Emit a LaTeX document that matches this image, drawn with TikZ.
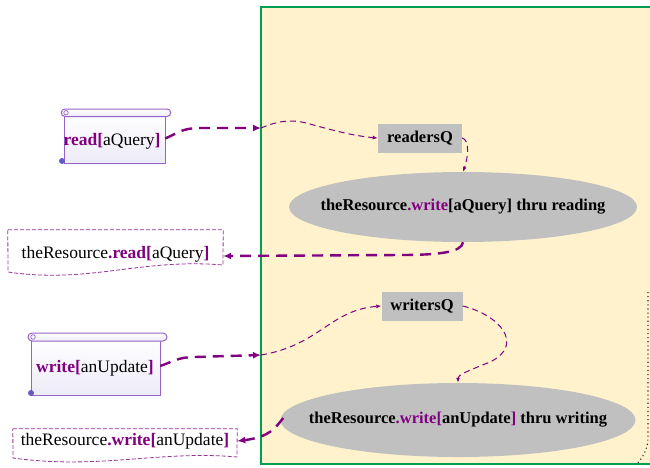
\documentclass[tikz,border=0pt]{standalone}
\usepackage{fontspec}
\setmainfont{Liberation Serif}
\usetikzlibrary{arrows.meta,shapes.geometric}
\definecolor{pur}{RGB}{128,0,128}
\definecolor{grn}{RGB}{0,160,80}
\definecolor{cream}{RGB}{255,242,204}
\definecolor{qgray}{RGB}{192,192,192}
\definecolor{scrl}{RGB}{150,100,200}
\definecolor{curl}{RGB}{100,90,200}
\newcommand{\pb}[1]{\textcolor{pur}{\textbf{#1}}}
\newcommand{\pr}[1]{\textcolor{pur}{#1}}
\begin{document}
\begin{tikzpicture}[x=1pt,y=-1pt,
  font=\fontsize{17.5}{21}\selectfont,
  thickarrow/.style={draw=pur, line width=2.4pt, dash pattern=on 11pt off 7pt, -{Latex[length=8pt,width=7pt]}},
  thinarrow/.style={draw=pur, line width=1pt, dash pattern=on 6pt off 4pt, -{Latex[length=5pt,width=4pt]}},
  scrollbody/.style={draw=none, minimum width=#1, inner sep=0pt},
  scrollline/.style={draw=scrl, line width=1pt, top color=white, bottom color=curl!12},
  docbox/.style={draw=none, inner sep=0pt, minimum height=42pt},
  docline/.style={draw=pur!80, line width=0.8pt, dash pattern=on 4pt off 2pt, fill=white},
  qbox/.style={fill=qgray, inner sep=0pt, minimum height=29pt, font=\fontsize{16.5}{20}\selectfont\bfseries},
  act/.style={ellipse, fill=qgray, inner sep=0pt},
  acttext/.style={font=\fontsize{16.5}{20}\selectfont\bfseries},
  frame/.style={draw=grn, line width=2pt, fill=cream}
]
\clip (0,0) rectangle (650,467);
\useasboundingbox (0,0) rectangle (650,467);

% frame
\draw[frame] (261,7) rectangle (700,464);
\draw[black!85, line width=1.1pt, dash pattern=on 1.1pt off 3pt] (648,292) -- (648,437) .. controls (648,450) and (642,458) .. (637,464);

% scroll 1
\node[scrollbody=100pt, minimum height=49pt] (s1) at (115,138.5) {};
\draw[scrollline] (s1.north west) -- (s1.south west) -- (s1.south east) -- (s1.north east) -- cycle;
\draw[scrollline] (65,109) -- (167,109) arc[start angle=90, end angle=-90, radius=3.75pt] -- (65,116.5) arc[start angle=270, end angle=90, radius=3.75pt];
\draw[scrl, line width=0.7pt] (66,112.75) circle[radius=2.2pt];
\fill[curl] (62,161) circle[radius=3pt];
\node at (112,141) {\pb{read[}aQuery\pb{]}};

% scroll 2
\node[scrollbody=128pt, minimum height=58pt] (s2) at (96,366) {};
\draw[scrollline] (s2.north west) -- (s2.south west) -- (s2.south east) -- (s2.north east) -- cycle;
\draw[scrollline] (32,333) -- (163,333) arc[start angle=90, end angle=-90, radius=4pt] -- (32,341) arc[start angle=270, end angle=90, radius=4pt];
\draw[scrl, line width=0.7pt] (33,337) circle[radius=2.3pt];
\fill[curl] (31,393) circle[radius=3pt];
\node at (95,368) {\pb{write[}anUpdate\pb{]}};

% doc 1
\node[docbox, minimum width=215pt] (d1) at (115.5,251) {};
\draw[docline] (d1.north west) -- (d1.north east) -- (223,265) .. controls (140,258) and (90,284) .. (8,272) -- cycle;
\node at (115.5,254) {theResource\pb{.read[}aQuery\pb{]}};

% doc 2
\node[docbox, minimum width=224pt, minimum height=30pt] (d2) at (125,444) {};
\draw[docline] (d2.north west) -- (d2.north east) -- (237,457) .. controls (160,450) and (100,470) .. (13,458) -- cycle;
\node at (125,441) {theResource\pb{.write[}anUpdate\pb{]}};

% queues
\node[qbox, minimum width=84pt] (rq) at (420,138) {readersQ};
\node[qbox, minimum width=81pt] (wq) at (422,306) {writersQ};

% activities
\node[act, minimum width=348pt, minimum height=70pt] (e1) at (463,207) {};
\node[acttext] (e1t) at (e1.center) {theResource\pr{.write}[aQuery] thru reading};
\node[act, minimum width=355pt, minimum height=74pt] (e2) at (458,420) {};
\node[acttext] (e2t) at (e2.center) {theResource\pr{.write[}anUpdate\pr{]} thru writing};

% entry coordinates on frame
\coordinate (in1) at (261,128);
\coordinate (in2) at (261,355);

% connectors
\draw[thickarrow] (s1.east) .. controls (178,133) and (182,128) .. (200,128) -- (in1);
\draw[thinarrow] (in1) .. controls (275,122) and (290,118) .. (310,124) .. controls (335,131) and (355,136) .. (rq.west);
\draw[thinarrow] (rq.east) .. controls (470,140) and (468,158) .. (e1.north);
\draw[thickarrow] (e1.south) .. controls (462,252) and (440,255) .. (400,255) -- (d1.east |- 0,256);
\draw[thickarrow] (s2.east) .. controls (172,362) and (178,357) .. (195,357) -- (in2);
\draw[thinarrow] (in2) .. controls (320,345) and (330,310) .. (wq.west);
\draw[thinarrow] (wq.east) .. controls (500,315) and (525,345) .. (490,362) .. controls (465,372) and (458,375) .. (e2.north);
\draw[thickarrow] (e2.west) ++(3,-2) .. controls (275,428) and (270,437) .. (d2.east |- 0,441);
\end{tikzpicture}
\end{document}
